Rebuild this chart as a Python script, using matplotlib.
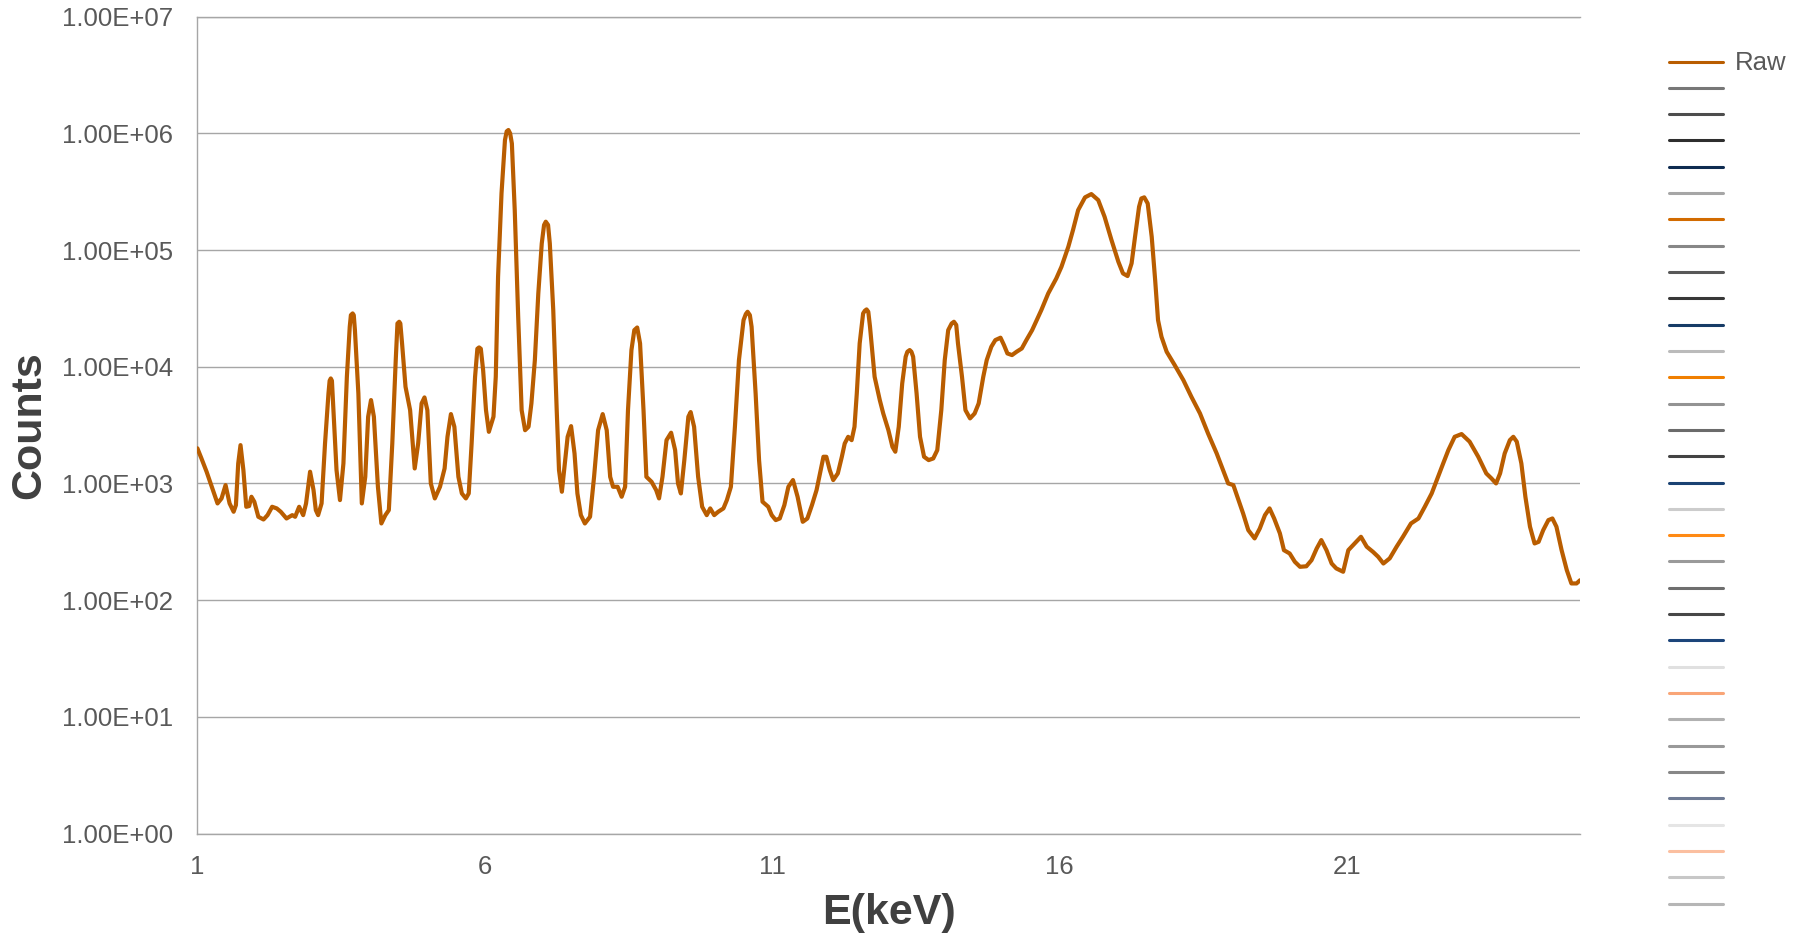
import matplotlib
matplotlib.use("Agg")
import matplotlib.pyplot as plt
from matplotlib.lines import Line2D

# X-ray fluorescence spectrum (raw counts vs. photon energy)
energy_kev = [
    1.00, 1.07, 1.16, 1.25, 1.35, 1.42, 1.49, 1.56, 1.63, 1.67, 1.71, 1.75, 1.80, 1.85, 1.90,
    1.94, 1.99, 2.06, 2.15, 2.22, 2.30, 2.38, 2.45, 2.55, 2.65, 2.70, 2.77, 2.84, 2.89, 2.96,
    3.02, 3.06, 3.10, 3.16, 3.22, 3.28, 3.30, 3.32, 3.34, 3.36, 3.42, 3.48, 3.54, 3.60, 3.65,
    3.67, 3.70, 3.72, 3.74,
    3.80, 3.86, 3.92, 3.97, 4.02, 4.07, 4.14, 4.20, 4.27, 4.33, 4.39, 4.45, 4.48, 4.51, 4.53,
    4.56, 4.62,
    4.70, 4.78, 4.84, 4.90, 4.95, 5.00, 5.06, 5.13, 5.22, 5.30, 5.35, 5.41, 5.47, 5.54, 5.60,
    5.67, 5.72, 5.77, 5.83, 5.87, 5.90, 5.93, 5.97, 6.02, 6.07, 6.15, 6.19, 6.23, 6.29, 6.35,
    6.38, 6.41, 6.44, 6.47,
    6.52, 6.58, 6.64, 6.70, 6.76, 6.81, 6.87, 6.93, 6.99, 7.03, 7.06, 7.10, 7.13, 7.19, 7.25,
    7.29, 7.34,
    7.38, 7.44, 7.50, 7.56, 7.61, 7.67, 7.74, 7.83, 7.90, 7.97, 8.05, 8.12, 8.18, 8.23, 8.31,
    8.38, 8.44, 8.49, 8.55, 8.60, 8.65, 8.70, 8.76, 8.81, 8.90, 8.98, 9.03, 9.09, 9.16, 9.24,
    9.31, 9.36, 9.41, 9.47, 9.54, 9.58, 9.64, 9.71, 9.78, 9.86, 9.92, 9.99, 10.06, 10.15, 10.21,
    10.28, 10.35, 10.42, 10.50, 10.54, 10.57, 10.61, 10.64, 10.71, 10.77, 10.83, 10.93, 10.99,
    11.06, 11.13, 11.21,
    11.28, 11.36, 11.44, 11.53, 11.61, 11.69, 11.77, 11.83, 11.89, 11.94, 12.00, 12.06, 12.14, 12.21,
    12.26, 12.32, 12.38, 12.43, 12.47, 12.52, 12.58, 12.61, 12.64, 12.67, 12.70, 12.78, 12.87,
    12.93, 13.02, 13.09,
    13.14, 13.20, 13.26, 13.32, 13.35, 13.39, 13.42, 13.45, 13.51, 13.57, 13.64, 13.72, 13.80,
    13.87, 13.94, 14.00,
    14.06, 14.12, 14.16, 14.20, 14.23, 14.30, 14.36, 14.44, 14.52, 14.59, 14.67, 14.73, 14.81,
    14.88, 14.97, 15.03,
    15.09, 15.17, 15.25, 15.34, 15.42, 15.52, 15.68, 15.80, 15.94, 16.03, 16.15, 16.23, 16.32, 16.44,
    16.55, 16.67, 16.78, 16.90, 17.02, 17.10, 17.18, 17.25, 17.31, 17.38, 17.42, 17.47, 17.53, 17.60,
    17.66, 17.71, 17.77, 17.86, 18.00, 18.15, 18.29, 18.44, 18.58, 18.73, 18.84, 18.93, 19.02, 19.10,
    19.19, 19.28, 19.39, 19.48, 19.57, 19.65, 19.73, 19.83, 19.90, 20.00, 20.09, 20.18, 20.29, 20.38,
    20.47, 20.55, 20.64, 20.73, 20.81, 20.93, 21.02, 21.13, 21.24, 21.34, 21.45, 21.54, 21.63, 21.74,
    21.86, 21.97, 22.11, 22.24, 22.35, 22.47, 22.58, 22.67, 22.76, 22.87, 22.99, 23.13, 23.28, 23.42,
    23.51, 23.59, 23.66, 23.74, 23.83, 23.89, 23.95, 24.03, 24.10, 24.18, 24.26, 24.33, 24.41, 24.50,
    24.57, 24.64, 24.73, 24.82, 24.90, 24.99, 25.05,
]

counts = [
    2000, 1640, 1260, 936, 674, 744, 968, 674, 572, 652, 1484, 2130, 1301, 631, 640,
    769, 697, 518, 491, 535, 631, 611, 572, 501, 535, 518, 631, 535, 674, 1260,
    877, 591, 535, 674, 2200, 5910, 7590, 7940, 7590, 4850, 1301, 720, 1484, 8200, 22000,
    27700, 28650, 27700, 20600,
    5910, 674, 1140, 3730, 5180, 3730, 936, 454, 535, 591, 2200, 11400, 23500, 24300, 23500,
    15850, 6740,
    4250, 1344, 2200, 4850, 5460, 4250, 1000, 744, 936, 1344, 2510, 3930, 3060, 1140, 821,
    744, 821, 2200, 8200, 14260, 14650, 14260, 9360, 4250, 2770, 3730, 8200, 59000, 306000, 877000,
    1040000, 1069000, 1000000, 820000,
    220000, 26800, 4250, 2860, 3060, 4850, 11400, 42500, 114000, 164000, 175000, 164000, 114000, 30600, 4250,
    1301, 849,
    1301, 2510, 3100, 1808, 821, 535, 454, 518, 1140, 2860, 3930, 2860, 1140, 936, 936,
    769, 936, 4250, 13900, 20600, 21700, 15850, 4250, 1140, 1033, 877, 744, 1140, 2350, 2720,
    1930, 1000, 821, 1585, 3730, 4090, 3060, 1140, 631, 535, 611, 535, 572, 611, 720,
    936, 3060, 11400, 25100, 28300, 29600, 27700, 22000, 5910, 1585, 697, 631, 535,
    485, 501, 652,
    936, 1069, 769, 469, 501, 652, 877, 1219, 1693, 1693, 1301, 1069, 1219, 1693,
    2200, 2510, 2350, 3060, 5910, 15850, 28650, 30200, 31000, 29600, 22000, 8200, 5180,
    3980, 2860, 2060,
    1870, 3060, 7190, 12190, 13450, 13900, 13450, 12190, 5910, 2510, 1693, 1585, 1638,
    1930, 4250, 11400,
    20600, 23500, 24300, 22800, 15850, 8200, 4250, 3610, 3980, 4850, 8200, 11400, 14840,
    16930, 17740, 15350,
    13000, 12590, 13450, 14350, 16930, 20600, 30600, 42500, 57100, 71900, 107000, 148000, 220000, 283000,
    302000, 268000, 193000, 122000, 79400, 63100, 59900, 76900, 130000, 235000, 277000, 283000, 251000, 130000,
    55300, 25100, 18070, 13450, 10330, 7690, 5530, 3980, 2680, 1808, 1301, 1000, 968, 744,
    553, 398, 338, 411, 535, 611, 501, 373, 268, 251, 213, 193, 195, 220,
    277, 327, 268, 206, 187, 175, 268, 306, 349, 287, 259, 235, 206, 228,
    287, 349, 454, 501, 631, 821, 1140, 1484, 1930, 2510, 2650, 2280, 1693, 1219,
    1104, 1000, 1219, 1808, 2350, 2510, 2280, 1484, 769, 426, 306, 316, 398, 485,
    501, 426, 268, 181, 139, 139, 148,
]

y_ticks = [1e0, 1e1, 1e2, 1e3, 1e4, 1e5, 1e6, 1e7]
y_tick_labels = ["1.00E+00", "1.00E+01", "1.00E+02", "1.00E+03",
                 "1.00E+04", "1.00E+05", "1.00E+06", "1.00E+07"]
x_ticks = [1, 6, 11, 16, 21]

series_label = "Raw"
# Colours of the series listed in the legend (the first one is the plotted spectrum)
legend_colors = [
    "#B95D00", "#777777", "#4D4D4D", "#2E2E2E", "#0E2B50", "#A6A6A6", "#D26B00",
    "#878787", "#585858", "#373737", "#173C66", "#BBBBBB", "#F07F00", "#939393",
    "#6B6B6B", "#434343", "#1A4273", "#CCCCCC", "#FF8A14", "#9A9A9A", "#6E6E6E",
    "#474747", "#1C457A", "#E0E0E0", "#F9A577", "#B1B1B1", "#999999", "#878787",
    "#6F7B94", "#E5E5E5", "#FBBFA0", "#C7C7C7", "#B6B6B6",
]

plt.rcParams["font.family"] = ["Liberation Sans", "DejaVu Sans"]

W, H = 1810, 938
fig = plt.figure(figsize=(W / 100, H / 100), dpi=100)
left, right, top, bottom = 197.4, 1580.0, 16.7, 833.5
ax = fig.add_axes([left / W, (H - bottom) / H, (right - left) / W, (bottom - top) / H])

grid_color = "#A6A6A6"
tick_color = "#595959"
label_color = "#404040"

ax.plot(energy_kev, counts, color=legend_colors[0], lw=3.0, solid_joinstyle="round",
        solid_capstyle="round", zorder=3)

ax.set_yscale("log")
ax.set_ylim(1, 1e7)
ax.set_xlim(1, 25.05)
ax.set_yticks(y_ticks)
ax.set_yticklabels(y_tick_labels)
ax.yaxis.set_minor_locator(matplotlib.ticker.NullLocator())
ax.set_xticks(x_ticks)
ax.set_xticklabels([str(t) for t in x_ticks])
ax.tick_params(axis="both", length=0, labelsize=18.5, labelcolor=tick_color)
ax.tick_params(axis="y", pad=17.5)
ax.tick_params(axis="x", pad=15.5)

ax.grid(axis="y", color=grid_color, lw=1.0)
ax.set_axisbelow(True)
for side in ("top", "right", "bottom"):
    ax.spines[side].set_visible(False)
ax.spines["left"].set_color(grid_color)
ax.spines["left"].set_linewidth(1.0)
for yv in (1e0, 1e7):
    ax.axhline(yv, color=grid_color, lw=1.0, clip_on=False, zorder=1)

ax.set_xlabel("E(keV)", fontsize=31, fontweight="bold", color=label_color)
ax.set_ylabel("Counts", fontsize=31, fontweight="bold", color=label_color)
ax.xaxis.set_label_coords(0.5, -(913 - bottom) / (bottom - top))
ax.xaxis.label.set_va("center")
ax.yaxis.set_label_coords(-(left - 29) / (right - left), 0.5)
ax.yaxis.label.set_va("center")

handles = [Line2D([], [], color=c, lw=2.2, solid_capstyle="round") for c in legend_colors]
labels = [series_label] + [""] * (len(legend_colors) - 1)
leg = fig.legend(handles, labels, loc="upper left",
                 bbox_to_anchor=(1669 / W, (H - 51.5) / H),
                 frameon=False, fontsize=18.5, borderpad=0, borderaxespad=0,
                 handlelength=2.1, handletextpad=0.47, labelspacing=0.09)
for t in leg.get_texts():
    t.set_color(tick_color)

fig.savefig("out.png", dpi=100, facecolor="white")
